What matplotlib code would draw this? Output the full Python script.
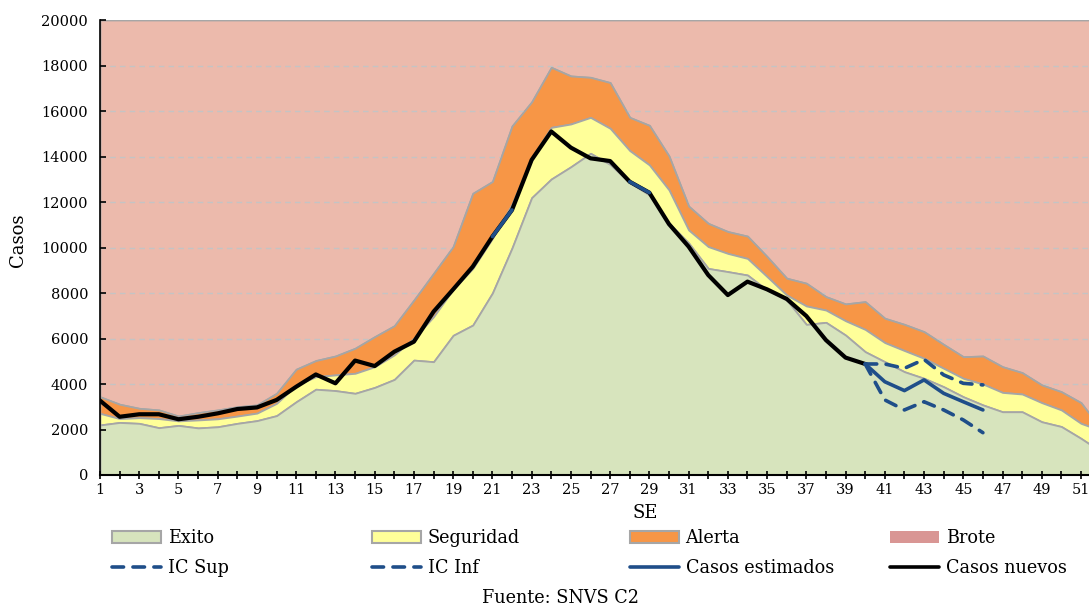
import numpy as np
import matplotlib
matplotlib.use("Agg")
import matplotlib.pyplot as plt
from matplotlib.patches import Patch
from matplotlib.lines import Line2D

plt.rcParams['font.family'] = ['DejaVu Serif']

weeks = list(range(1, 53))

# corridor limits (upper edge of each band)
exito = [2200, 2310, 2270, 2080, 2180, 2070, 2120, 2270, 2390, 2610,
         3220, 3770, 3710, 3590, 3850, 4200, 5050, 4980, 6140, 6590,
         8000, 9980, 12190, 13010, 13550, 14140, 13650, 12850, 12310, 11070,
         10200, 9080, 8940, 8790, 8130, 7690, 6620, 6710, 6150, 5420,
         4980, 4540, 4250, 3880, 3440, 3080, 2780, 2780, 2340, 2130,
         1610, 1040]
seguridad = [2710, 2480, 2520, 2480, 2380, 2420, 2470, 2590, 2720, 3150,
             3950, 4320, 4400, 4470, 4760, 5280, 6010, 6960, 8160, 9080,
             10400, 11900, 13930, 15280, 15430, 15720, 15240, 14260, 13630, 12530,
             10770, 10040, 9740, 9520, 8720, 7910, 7430, 7250, 6780, 6400,
             5820, 5470, 5130, 4690, 4250, 4000, 3630, 3560, 3180, 2860,
             2270, 1960]
alerta = [3440, 3110, 2930, 2860, 2590, 2740, 2860, 3000, 3080, 3590,
          4650, 5030, 5230, 5570, 6080, 6560, 7690, 8860, 10040, 12380,
          12900, 15340, 16400, 17920, 17540, 17480, 17250, 15720, 15370, 14020,
          11820, 11060, 10700, 10500, 9600, 8650, 8430, 7840, 7520, 7620,
          6890, 6620, 6300, 5740, 5200, 5230, 4760, 4500, 3960, 3660,
          3180, 2040]
brote_max = 20000

casos_nuevos = [3270, 2560, 2670, 2670, 2450, 2560, 2710, 2900, 2970, 3300,
                3880, 4420, 4030, 5030, 4790, 5420, 5860, 7180, 8160, 9160,
                10480, 11650, 13850, 15100, 14390, 13920, 13800, 12890, 12410, 11030,
                10040, 8790, 7910, 8500, 8160, 7740, 6990, 5930, 5160, 4880]

est_weeks = [21, 22, 28, 29, 40, 41, 42, 43, 44, 45, 46]
casos_estimados = [10480, 11650, 12890, 12410, 4880, 4100, 3710, 4180, 3590, 3220, 2860]

ic_weeks = [40, 41, 42, 43, 44, 45, 46]
ic_sup = [4880, 4880, 4690, 5080, 4400, 4030, 3960]
ic_inf = [4880, 3300, 2860, 3220, 2860, 2420, 1860]

c_exito = '#D7E4BD'
c_seg = '#FFFF99'
c_alerta = '#F79646'
c_brote = '#ECBAAC'
c_brote_leg = '#D99694'
c_edge = '#A6A6A6'
c_blue = '#1F4E89'

W, H = 1089, 607
fig = plt.figure(figsize=(W / 100, H / 100), dpi=100)
ax = fig.add_axes([100 / W, 1 - 475 / H, 989 / W, 455 / H])

x = np.array(weeks)
ax.fill_between(x, alerta, brote_max, facecolor=c_brote, edgecolor=c_edge, lw=1.3, zorder=0.2)
for yv in range(2000, 20000, 2000):
    ax.axhline(yv, color='#C4C4C4', lw=1, ls=(0, (4, 3)), zorder=0.5)
ax.fill_between(x, seguridad, alerta, facecolor=c_alerta, edgecolor=c_edge, lw=1.3, zorder=1)
ax.fill_between(x, exito, seguridad, facecolor=c_seg, edgecolor=c_edge, lw=1.3, zorder=1.1)
ax.fill_between(x, 0, exito, facecolor=c_exito, edgecolor=c_edge, lw=1.3, zorder=1.2)

ax.plot(range(1, len(casos_nuevos) + 1), casos_nuevos, color='black', lw=3,
        solid_joinstyle='round', zorder=3)

# estimated series, broken where weeks are not consecutive
ew = np.array(est_weeks, dtype=float)
ev = np.array(casos_estimados, dtype=float)
gaps = np.where(np.diff(ew) > 1)[0] + 1
ew = np.insert(ew, gaps, np.nan)
ev = np.insert(ev, gaps, np.nan)
ax.plot(ew, ev, color=c_blue, lw=2.6, solid_capstyle='round', zorder=3.2)

dash = (0, (3.2, 2.6))
ax.plot(ic_weeks, ic_sup, color=c_blue, lw=2.6, ls=dash, dash_capstyle='round', zorder=3.1)
ax.plot(ic_weeks, ic_inf, color=c_blue, lw=2.6, ls=dash, dash_capstyle='round', zorder=3.1)

ax.set_xticks(range(1, 53))
ax.set_xticklabels([str(w) if w % 2 == 1 else '' for w in range(1, 53)])
ax.set_yticks(range(0, 20001, 2000))
ax.set_xlim(1, 1 + 989 / 19.62)
ax.set_ylim(0, 20000)
for s in ['top', 'right']:
    ax.spines[s].set_visible(False)
ax.spines['left'].set_linewidth(1.2)
ax.spines['bottom'].set_linewidth(1.5)
ax.spines['left'].set_zorder(4)
ax.spines['bottom'].set_zorder(4)
ax.tick_params(axis='x', direction='inout', length=6, width=1.2, pad=3, labelsize=10.5)
ax.tick_params(axis='y', direction='in', length=4, width=1.2, pad=8.5, labelsize=10.5)

fig.text(18 / W, 1 - 240 / H, 'Casos', rotation=90, ha='center', va='center', fontsize=13)
fig.text(645 / W, 1 - 513 / H, 'SE', ha='center', va='center', fontsize=13)
fig.text(560 / W, 1 - 598 / H, 'Fuente: SNVS C2', ha='center', va='center', fontsize=12.7)

columns = [
    (112, [Patch(facecolor=c_exito, edgecolor=c_edge, lw=1.5),
           Line2D([], [], color=c_blue, lw=2.6, ls=dash, dash_capstyle='round')],
     ['Exito', 'IC Sup']),
    (372, [Patch(facecolor=c_seg, edgecolor=c_edge, lw=1.5),
           Line2D([], [], color=c_blue, lw=2.6, ls=dash, dash_capstyle='round')],
     ['Seguridad', 'IC Inf']),
    (630, [Patch(facecolor=c_alerta, edgecolor=c_edge, lw=1.5),
           Line2D([], [], color=c_blue, lw=2.6, solid_capstyle='round')],
     ['Alerta', 'Casos estimados']),
    (890, [Patch(facecolor=c_brote_leg, edgecolor='none'),
           Line2D([], [], color='black', lw=2.6, solid_capstyle='round')],
     ['Brote', 'Casos nuevos']),
]
for x0, handles, labels in columns:
    fig.legend(handles, labels, loc='center left', bbox_to_anchor=(x0 / W, 1 - 553 / H),
               frameon=False, fontsize=12.7, borderpad=0, borderaxespad=0,
               handlelength=2.8, handleheight=0.65, handletextpad=0.35, labelspacing=0.65)

fig.savefig('out.png', dpi=100)
